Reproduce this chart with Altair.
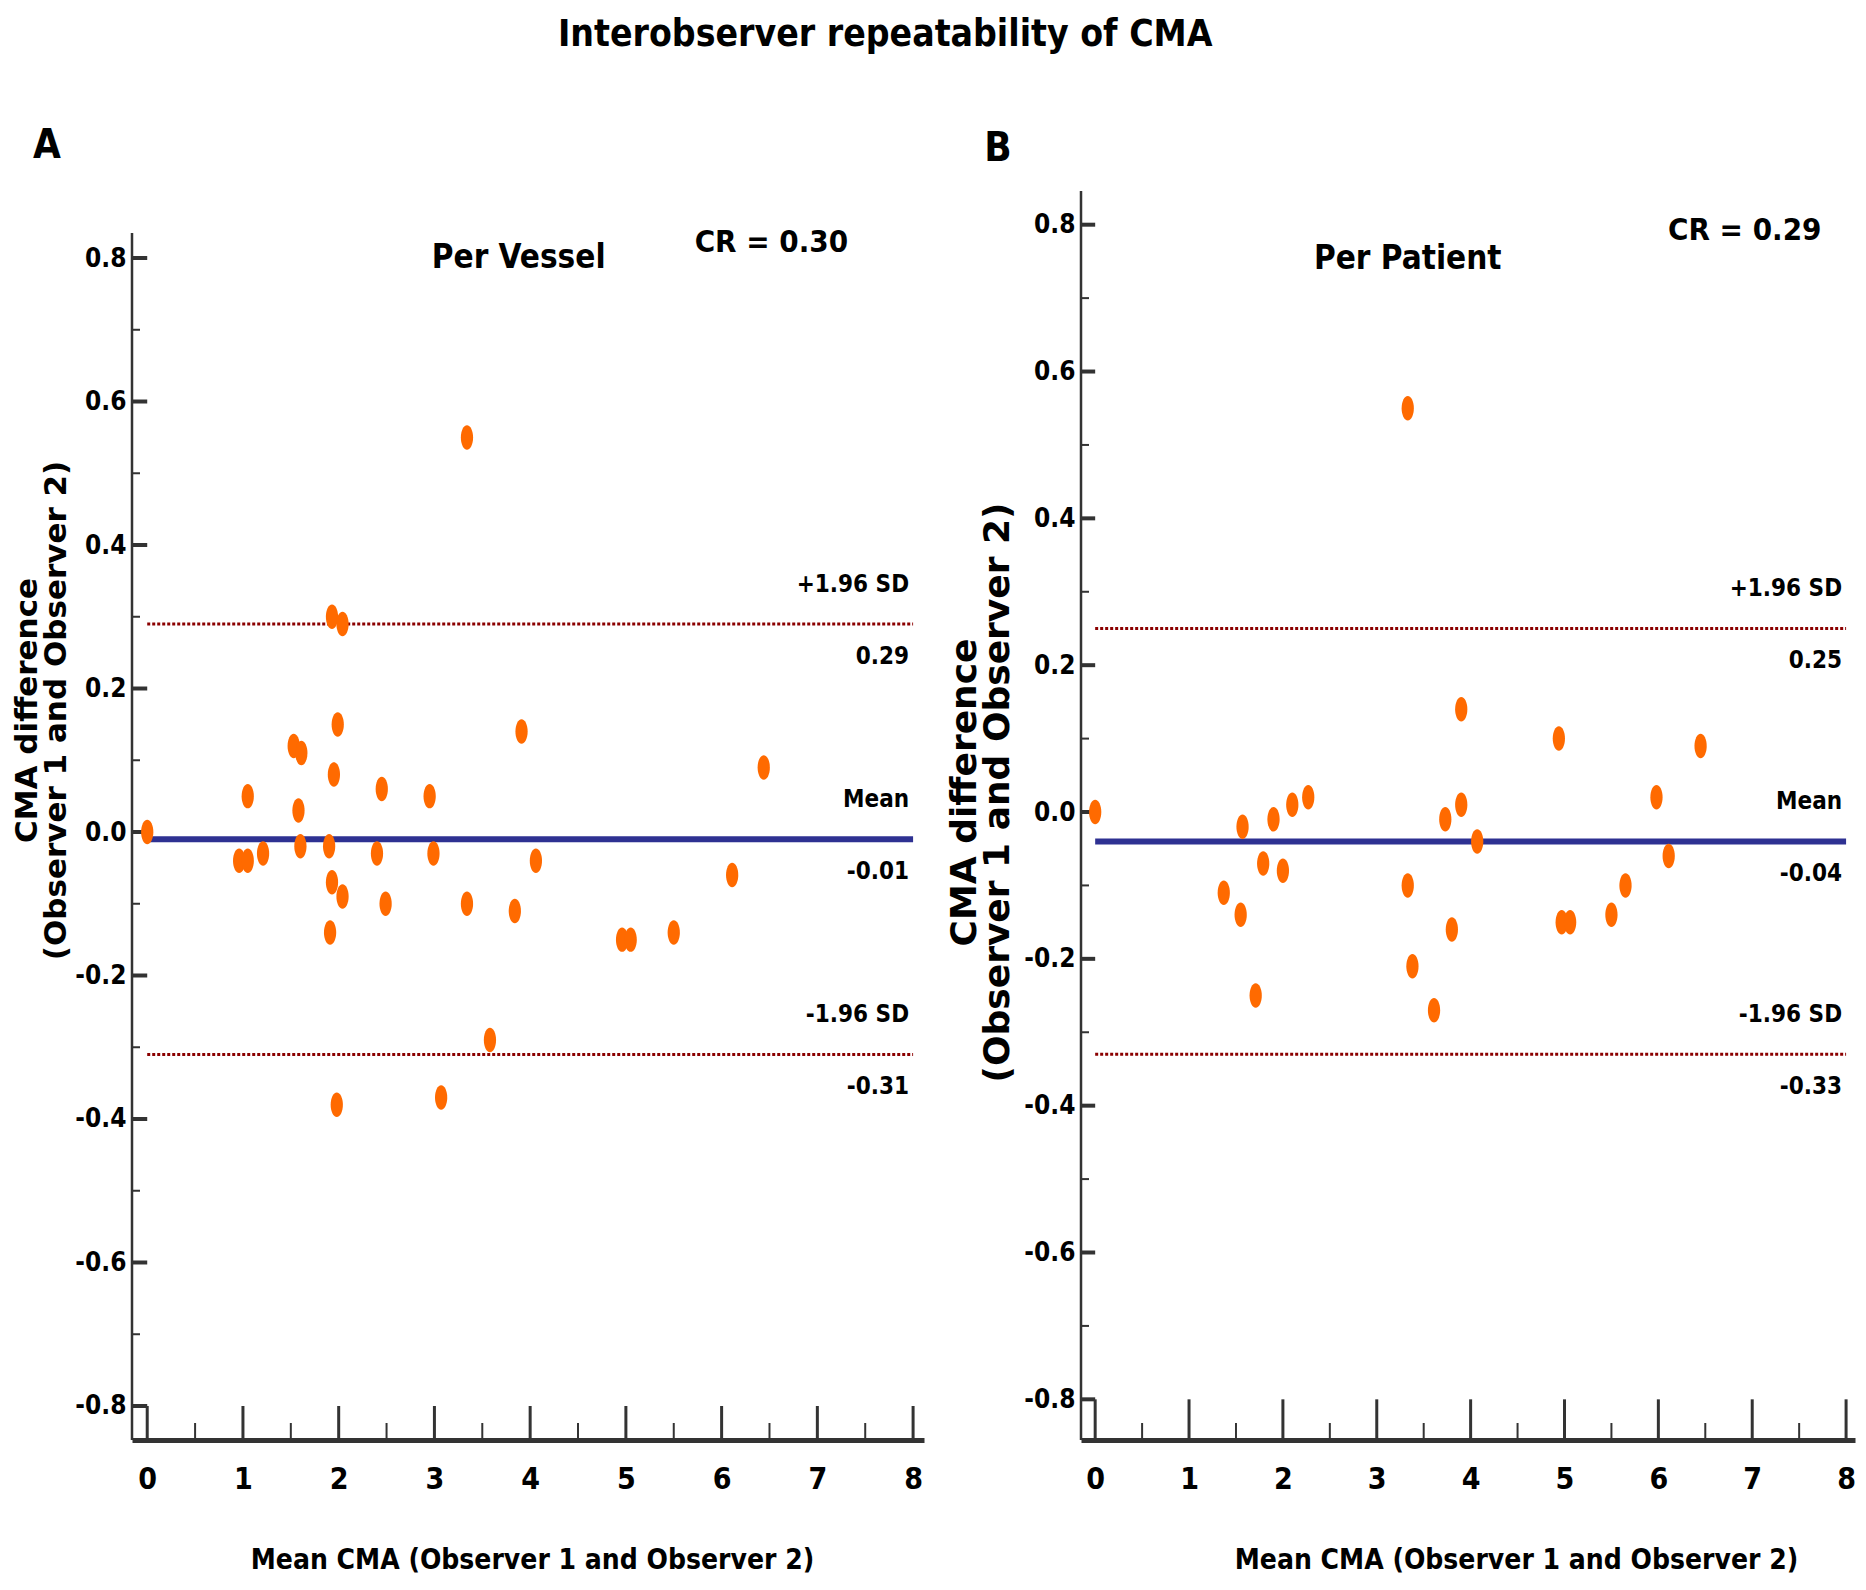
import altair as alt
import pandas as pd

TITLE = "Interobserver repeatability of CMA"
X_TITLE = "Mean CMA (Observer 1 and Observer 2)"
Y_TITLE = ["CMA difference", "(Observer 1 and Observer 2)"]

x_ticks = [0, 1, 2, 3, 4, 5, 6, 7, 8]
x_minor = [0.5, 1.5, 2.5, 3.5, 4.5, 5.5, 6.5, 7.5]
y_ticks = [-0.8, -0.6, -0.4, -0.2, 0.0, 0.2, 0.4, 0.6, 0.8]
y_minor = [-0.7, -0.5, -0.3, -0.1, 0.1, 0.3, 0.5, 0.7]

# Panel A: per vessel
a_mean = [0.0, 0.96, 1.05, 1.05, 1.21, 1.53, 1.61, 1.58, 1.60, 1.90, 1.93, 1.91,
          1.95, 1.99, 1.93, 2.04, 2.04, 1.98, 2.45, 2.40, 2.49, 2.95, 2.99, 3.34,
          3.34, 3.07, 3.58, 3.84, 3.91, 4.06, 4.96, 5.05, 5.50, 6.11, 6.44]
a_diff = [0.0, -0.04, -0.04, 0.05, -0.03, 0.12, 0.11, 0.03, -0.02, -0.02, -0.07, -0.14,
          0.08, 0.15, 0.30, 0.29, -0.09, -0.38, 0.06, -0.03, -0.10, 0.05, -0.03, 0.55,
          -0.10, -0.37, -0.29, -0.11, 0.14, -0.04, -0.15, -0.15, -0.14, -0.06, 0.09]
a_stats = [0.29, -0.01, -0.31]
a_stat_labels = ["0.29", "-0.01", "-0.31"]
a_sub = "Per Vessel"
a_cr = "CR = 0.30"

# Panel B: per patient
b_mean = [0.0, 1.37, 1.55, 1.57, 1.71, 1.79, 1.90, 2.00, 2.10, 2.27, 3.33, 3.33,
          3.38, 3.61, 3.73, 3.80, 3.90, 3.90, 4.07, 4.94, 4.97, 5.06, 5.50, 5.65,
          5.98, 6.11, 6.45]
b_diff = [0.0, -0.11, -0.14, -0.02, -0.25, -0.07, -0.01, -0.08, 0.01, 0.02, 0.55, -0.10,
          -0.21, -0.27, -0.01, -0.16, 0.01, 0.14, -0.04, 0.10, -0.15, -0.15, -0.14, -0.10,
          0.02, -0.06, 0.09]
b_stats = [0.25, -0.04, -0.33]
b_stat_labels = ["0.25", "-0.04", "-0.33"]
b_sub = "Per Patient"
b_cr = "CR = 0.29"

stat_names = ["+1.96 SD", "Mean", "-1.96 SD"]

FN = "Liberation Sans Narrow, DejaVu Sans Condensed, Liberation Sans, sans-serif"
FW = "DejaVu Sans"
DARK = "#333333"
ORANGE = "#ff6a00"
BLUE = "#2e3192"
RED = "#8b0000"
ELLIPSE = "M0,-1A0.5,1,0,1,1,0,1A0.5,1,0,1,1,0,-1Z"


def panel(xs, ys, stats, stat_labels, sub, cr, letter, cfg):
    W, H = cfg["w"], cfg["h"]
    xd, yd = cfg["xd"], cfg["yd"]
    kx = W / (xd[1] - xd[0])
    ky = H / (yd[1] - yd[0])

    neg = "datum.value < 0 ? '-' + format(-datum.value, '.1f') : format(datum.value, '.1f')"
    xaxis = alt.Axis(values=x_ticks, format="d", ticks=False, grid=False, domain=True,
                     domainWidth=5, domainColor=DARK, labelFont=FN, labelFontSize=30,
                     labelFontWeight="bold", labelColor="black", labelPadding=24,
                     labelFlush=False, labelOverlap=False, labelBound=False,
                     title=X_TITLE, titleFont=FN, titleFontSize=28, titleFontWeight="bold",
                     titleColor="black", titleX=cfg["xtx"], titleY=120,
                     titleBaseline="middle", titleAlign="center")
    yaxis = alt.Axis(values=y_ticks, labelExpr=neg, ticks=False, grid=False, domain=False,
                     labelFont=FN, labelFontSize=26, labelFontWeight="bold",
                     labelColor="black", labelPadding=6, labelOverlap=False,
                     labelFlush=False, labelBound=False,
                     title=Y_TITLE, titleFont=FW, titleFontSize=cfg["yfs"],
                     titleLineHeight=cfg["ylh"], titleFontWeight="bold", titleColor="black",
                     titleX=cfg["ytx"], titleY=cfg["yty"], titleAngle=270,
                     titleAlign="center", titleBaseline="middle")

    def X(f):
        return alt.X(f, type="quantitative",
                     scale=alt.Scale(domain=xd, nice=False, zero=False), axis=xaxis)

    def Y(f):
        return alt.Y(f, type="quantitative",
                     scale=alt.Scale(domain=yd, nice=False, zero=False), axis=yaxis)

    yline = alt.Chart(pd.DataFrame({"x": [xd[0]], "y": [cfg["ytop"]], "y1": [yd[0]]})).mark_rule(
        color=DARK, strokeWidth=2.5).encode(x=X("x"), y=Y("y"), y2="y1")
    ymaj = alt.Chart(pd.DataFrame({"y": y_ticks, "x": xd[0], "x1": 0.0})).mark_rule(
        color=DARK, strokeWidth=4).encode(y=Y("y"), x=X("x"), x2="x1")
    ymin = alt.Chart(pd.DataFrame({"y": y_minor, "x": xd[0], "x1": xd[0] + 8 / kx})).mark_rule(
        color=DARK, strokeWidth=2).encode(y=Y("y"), x=X("x"), x2="x1")
    xmaj = alt.Chart(pd.DataFrame({"x": x_ticks, "y": yd[0], "y1": -0.8})).mark_rule(
        color=DARK, strokeWidth=3).encode(x=X("x"), y=Y("y"), y2="y1")
    xmin = alt.Chart(pd.DataFrame({"x": x_minor, "y": yd[0], "y1": yd[0] + 17 / ky})).mark_rule(
        color=DARK, strokeWidth=2).encode(x=X("x"), y=Y("y"), y2="y1")

    lim = alt.Chart(pd.DataFrame({"y": [stats[0], stats[2]], "x": 0.0, "x1": 8.0})).mark_rule(
        color=RED, strokeWidth=3, strokeDash=[3, 2]).encode(x=X("x"), x2="x1", y=Y("y"))
    mean = alt.Chart(pd.DataFrame({"y": [stats[1]], "x": [0.0], "x1": [8.0]})).mark_rule(
        color=BLUE, strokeWidth=6).encode(x=X("x"), x2="x1", y=Y("y"))

    pts = alt.Chart(pd.DataFrame({"x": xs, "y": ys})).mark_point(
        shape=ELLIPSE, filled=True, size=600, color=ORANGE, opacity=1, strokeWidth=0).encode(
        x=X("x"), y=Y("y"))

    tdf = pd.DataFrame({"y": stats, "x": 8.0, "n": stat_names, "v": stat_labels})
    t_above = alt.Chart(tdf).mark_text(
        align="right", baseline="middle", dx=-4, dy=-39, font=FN, fontSize=24,
        fontWeight="bold", color="black").encode(x=X("x"), y=Y("y"), text="n:N")
    t_below = alt.Chart(tdf).mark_text(
        align="right", baseline="middle", dx=-4, dy=33, font=FN, fontSize=24,
        fontWeight="bold", color="black").encode(x=X("x"), y=Y("y"), text="v:N")

    sdf = pd.DataFrame({"x": [cfg["sub"][0]], "y": [cfg["sub"][1]], "t": [sub]})
    t_sub = alt.Chart(sdf).mark_text(
        align="center", baseline="middle", font=FN, fontSize=33,
        fontWeight="bold", color="black").encode(x=X("x"), y=Y("y"), text="t:N")
    cdf = pd.DataFrame({"x": [cfg["cr"][0]], "y": [cfg["cr"][1]], "t": [cr]})
    t_cr = alt.Chart(cdf).mark_text(
        align="center", baseline="middle", font=FN, fontSize=31,
        fontWeight="bold", color="black").encode(x=X("x"), y=Y("y"), text="t:N")
    t_letter = alt.Chart(pd.DataFrame({"t": [letter]})).mark_text(
        align="center", baseline="middle", font=FN, fontSize=40,
        fontWeight="bold", color="black").encode(
        x=alt.value(cfg["let"][0]), y=alt.value(cfg["let"][1]), text="t:N")

    return alt.layer(yline, ymaj, ymin, xmaj, xmin, lim, mean, pts,
                     t_above, t_below, t_sub, t_cr, t_letter).properties(width=W, height=H)


cfgA = dict(w=792, h=1249, xd=[-0.159, 8.114], yd=[-0.8474, 0.8934], ytop=0.835,
            ytx=-105, yty=519, yfs=31, ylh=29, xtx=400,
            sub=(3.88, 0.80), cr=(6.52, 0.821), let=(-85, -45))
cfgB = dict(w=774, h=1249, xd=[-0.151, 8.095], yd=[-0.8554, 0.8459], ytop=0.8459,
            ytx=-117, yty=601, yfs=36, ylh=33, xtx=435,
            sub=(3.33, 0.753), cr=(6.92, 0.791), let=(-83, -42))

pA = panel(a_mean, a_diff, a_stats, a_stat_labels, a_sub, a_cr, "A", cfgA)
pB = panel(b_mean, b_diff, b_stats, b_stat_labels, b_sub, b_cr, "B", cfgB)

chart = alt.hconcat(pA, pB, spacing=22).properties(
    title=alt.TitleParams(text=TITLE, font=FN, fontSize=37, fontWeight="bold",
                          color="black", anchor="middle", dx=-48, offset=72),
    padding={"left": 3, "top": 8, "right": 0, "bottom": 0},
).configure_view(stroke=None)

chart.save("out.html", embed_options={"renderer": "svg", "actions": False})
